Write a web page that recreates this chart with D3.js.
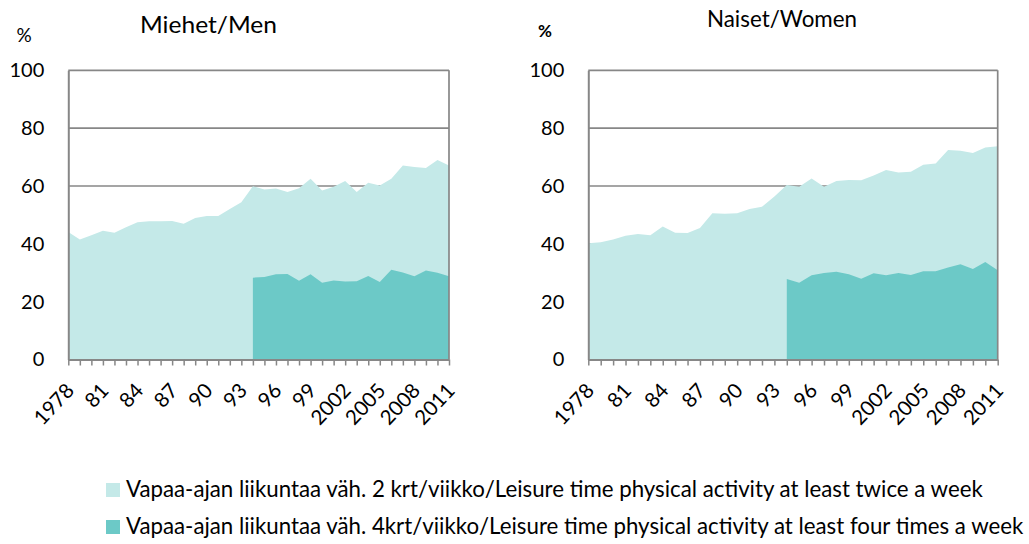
<!DOCTYPE html>
<html>
<head>
<meta charset="utf-8">
<script src="https://cdn.jsdelivr.net/npm/d3@7"></script>
<style>
  html, body { margin: 0; padding: 0; background: #ffffff; }
  svg { display: block; font-family: Lato, "Open Sans", sans-serif; }
</style>
</head>
<body>
<svg id="chart" width="1029" height="544"></svg>
<script>
// ---- data ----
const years = [1978,1979,1980,1981,1982,1983,1984,1985,1986,1987,1988,1989,1990,1991,1992,1993,1994,1995,1996,1997,1998,1999,2000,2001,2002,2003,2004,2005,2006,2007,2008,2009,2010,2011];
const tickYears = [1978,1981,1984,1987,1990,1993,1996,1999,2002,2005,2008,2011];
const tickLabels = ["1978","81","84","87","90","93","96","99","2002","2005","2008","2011"];
const yTicks = [0,20,40,60,80,100];

const menTwice = [44.1,41.5,43.0,44.5,43.8,45.7,47.5,47.8,47.8,47.9,46.9,48.9,49.6,49.6,52.0,54.4,59.9,58.8,59.1,57.9,59.2,62.5,58.4,59.7,61.7,57.9,61.1,60.2,62.5,67.1,66.6,66.2,69.0,67.1];
const menFour = [null,null,null,null,null,null,null,null,null,null,null,null,null,null,null,null,28.3,28.5,29.5,29.6,27.2,29.5,26.5,27.3,27.0,27.1,28.9,26.8,31.0,30.1,28.8,30.8,30.0,28.8];
const womenTwice = [40.2,40.5,41.5,42.8,43.4,43.0,46.0,43.8,43.7,45.5,50.6,50.4,50.6,52.0,52.8,56.4,60.3,59.7,62.6,59.7,61.7,62.1,62.0,63.6,65.5,64.7,64.9,67.3,67.8,72.4,72.2,71.4,73.3,73.7];
const womenFour = [null,null,null,null,null,null,null,null,null,null,null,null,null,null,null,null,27.8,26.5,29.1,29.9,30.3,29.5,27.9,29.8,29.1,29.9,29.2,30.5,30.5,31.8,32.9,31.3,33.7,30.9];

const legendLabels = [
  "Vapaa-ajan liikuntaa väh. 2 krt/viikko/Leisure time physical activity at least twice a week",
  "Vapaa-ajan liikuntaa väh. 4krt/viikko/Leisure time physical activity at least four times a week"
];
const colTwice = "#c4e9e8";
const colFour = "#6cc9c7";
const axisCol = "#878787";

const svg = d3.select("#chart");
const yTop = 70.3, yBot = 359.5;

function panel(opts) {
  const x = d3.scalePoint().domain(years).range([opts.x0, opts.x1]);
  const y = d3.scaleLinear().domain([0, 100]).range([yBot, yTop]);
  const g = svg.append("g");

  // gridlines
  g.selectAll("line.grid").data(yTicks.filter(d => d > 0)).join("line")
    .attr("x1", opts.x0).attr("x2", opts.x1)
    .attr("y1", d => y(d)).attr("y2", d => y(d))
    .attr("stroke", axisCol).attr("stroke-width", 1.7);

  const area = d3.area()
    .defined(d => d.v != null)
    .x(d => x(d.year)).y0(y(0)).y1(d => y(d.v));

  g.append("path")
    .datum(years.map((yr, i) => ({year: yr, v: opts.twice[i]})))
    .attr("d", area).attr("fill", colTwice);
  g.append("path")
    .datum(years.map((yr, i) => ({year: yr, v: opts.four[i]})))
    .attr("d", area).attr("fill", colFour);

  // right border
  g.append("line").attr("x1", opts.x1).attr("x2", opts.x1).attr("y1", yTop).attr("y2", yBot)
    .attr("stroke", axisCol).attr("stroke-width", 1.7);

  // y axis
  const ya = d3.axisLeft(y).tickValues(yTicks).tickSize(0).tickPadding(24).tickFormat(d3.format("d"));
  const yg = g.append("g").attr("transform", `translate(${opts.x0},0)`).call(ya);
  yg.select(".domain").attr("stroke", axisCol).attr("stroke-width", 2);
  yg.selectAll("text").attr("font-size", 20).attr("fill", "#000").attr("font-family", "Lato");

  // x axis
  const xa = d3.axisBottom(x).tickSize(6).tickSizeOuter(0).tickFormat(() => "");
  const xg = g.append("g").attr("transform", `translate(0,${yBot})`).call(xa);
  xg.select(".domain").attr("stroke", axisCol).attr("stroke-width", 2);
  xg.selectAll(".tick line").attr("stroke", axisCol).attr("stroke-width", 1.5);

  // rotated tick labels
  g.selectAll("text.xl").data(tickYears).join("text")
    .attr("class", "xl")
    .attr("transform", (d) => `translate(${x(d) + 7},${yBot + 32}) rotate(-47)`)
    .attr("text-anchor", "end")
    .attr("font-size", 20.5)
    .attr("fill", "#000")
    .text((d, i) => tickLabels[i]);

  // title
  svg.append("text").attr("x", opts.titleX).attr("y", opts.titleY)
    .attr("font-size", 24).attr("fill", "#000")
    .attr("textLength", opts.titleLen).attr("lengthAdjust", "spacingAndGlyphs")
    .text(opts.title);
  // percent
  svg.append("text").attr("x", opts.pctX).attr("y", opts.pctY)
    .attr("text-anchor", "middle")
    .attr("font-size", opts.pctSize).attr("font-weight", opts.pctBold ? "bold" : "normal")
    .attr("fill", "#000").text("%");
}

panel({x0: 68.3, x1: 449, twice: menTwice, four: menFour, title: "Miehet/Men", titleLen: 137,
       titleX: 140, titleY: 32.5, pctX: 24, pctY: 41.5, pctSize: 19, pctBold: false});
panel({x0: 588.3, x1: 997.7, twice: womenTwice, four: womenFour, title: "Naiset/Women", titleLen: 150,
       titleX: 707, titleY: 26.5, pctX: 545, pctY: 36.7, pctSize: 17, pctBold: true});

// legend
const lg = svg.append("g");
const legRows = [{c: colTwice, t: legendLabels[0], y: 483}, {c: colFour, t: legendLabels[1], y: 520}];
legRows.forEach(r => {
  lg.append("rect").attr("x", 106).attr("y", r.y).attr("width", 14).attr("height", 14).attr("fill", r.c);
});
const texts = lg.selectAll("text.leg").data(legRows).join("text")
  .attr("class", "leg")
  .attr("x", 126).attr("y", d => d.y + 14)
  .attr("font-size", 20).attr("fill", "#000")
  .text(d => d.t);
// scale font so first line spans to ~983px
const w0 = texts.node().getComputedTextLength();
const fs = 20 * (983 - 126) / w0;
texts.attr("font-size", fs);
</script>
</body>
</html>
